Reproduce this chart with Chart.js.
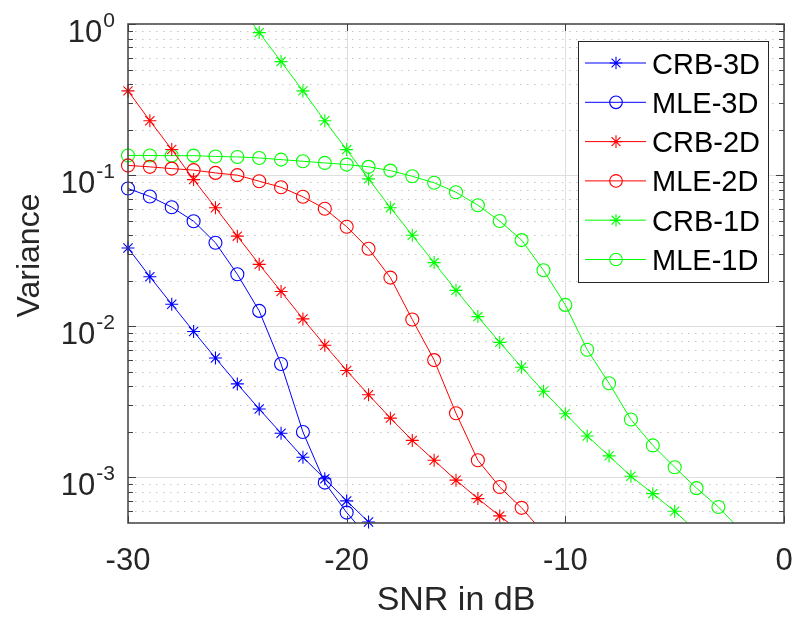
<!DOCTYPE html>
<html><head><meta charset="utf-8">
<script src="https://cdn.jsdelivr.net/npm/chart.js@4.4.1/dist/chart.umd.min.js"></script>
<style>html,body{margin:0;padding:0;background:#fff}#wrap{width:794px;height:618px}</style>
</head><body><div id="wrap"><canvas id="c" width="794" height="618"></canvas></div>
<script>
// ---- data (last/first value of a series lies just outside the axes) ----
const crb3dSNR = [-30,-29,-28,-27,-26,-25,-24,-23,-22,-21,-20,-19,-18];
const crb3dVar = [0.033,0.0213,0.014,0.00925,0.00617,0.00416,0.00284,0.00196,0.00136,0.00098,0.0007,0.000508,0.00036];
const mle3dSNR = [-30,-29,-28,-27,-26,-25,-24,-23,-22,-21,-20,-19];
const mle3dVar = [0.0816,0.0723,0.0614,0.0496,0.0357,0.0221,0.01265,0.00563,0.002,0.000925,0.000586,0.0004];
const crb2dSNR = [-30,-29,-28,-27,-26,-25,-24,-23,-22,-21,-20,-19,-18,-17,-16,-15,-14,-13,-12];
const crb2dVar = [0.361,0.229,0.148,0.0935,0.0609,0.0395,0.0257,0.017,0.0112,0.0075,0.0051,0.00353,0.00247,0.00176,0.0013,0.00096,0.000725,0.000557,0.00043];
const mle2dSNR = [-30,-29,-28,-27,-26,-25,-24,-23,-22,-21,-20,-19,-18,-17,-16,-15,-14,-13,-12,-11];
const mle2dVar = [0.116,0.1135,0.1105,0.108,0.1035,0.1,0.0912,0.0832,0.0719,0.06,0.0456,0.0326,0.021,0.0111,0.00598,0.00266,0.0013,0.000865,0.00063,0.00043];
const crb1dSNR = [-25,-24,-23,-22,-21,-20,-19,-18,-17,-16,-15,-14,-13,-12,-11,-10,-9,-8,-7,-6,-5,-4];
const crb1dVar = [1.4,0.877,0.564,0.361,0.229,0.1476,0.0945,0.0609,0.04,0.0264,0.0173,0.0116,0.00783,0.00536,0.00372,0.00264,0.00188,0.00139,0.00102,0.000782,0.000598,0.00044];
const mle1dSNR = [-30,-29,-28,-27,-26,-25,-24,-23,-22,-21,-20,-19,-18,-17,-16,-15,-14,-13,-12,-11,-10,-9,-8,-7,-6,-5,-4,-3,-2];
const mle1dVar = [0.135,0.135,0.1346,0.1346,0.133,0.132,0.13,0.1267,0.1236,0.1205,0.1175,0.1135,0.1072,0.0983,0.089,0.0771,0.0633,0.0497,0.0372,0.0235,0.01386,0.007,0.0042,0.00242,0.00163,0.00117,0.00085,0.000638,0.00045];

const seriesNames   = ['CRB-3D','MLE-3D','CRB-2D','MLE-2D','CRB-1D','MLE-1D'];
const seriesSNR     = [crb3dSNR, mle3dSNR, crb2dSNR, mle2dSNR, crb1dSNR, mle1dSNR];
const seriesVar     = [crb3dVar, mle3dVar, crb2dVar, mle2dVar, crb1dVar, mle1dVar];
const seriesColors  = ['#0000ff','#0000ff','#ff0000','#ff0000','#00ff00','#00ff00'];
const seriesMarkers = ['star','circle','star','circle','star','circle'];

const xMin = -30, xMax = 0;
const xTicks = [-30,-20,-10,0];
const xTickLabels = ['-30','-20','-10','0'];
const yMin = 5e-4, yMax = 1;
const yMajorTicks = [1e-3,1e-2,1e-1,1];
const yTickBase = '10';
const yTickExponents = ['-3','-2','-1','0'];
const xTitle = 'SNR in dB';
const yTitle = 'Variance';

const yMinorTicks = [];
for (const e of [-4,-3,-2,-1]) for (let m = 2; m <= 9; m++) {
  const v = m * Math.pow(10, e);
  if (v > yMin * 1.0001 && v < yMax) yMinorTicks.push(v);
}

const FONT = "'Liberation Sans', Arial, Helvetica, sans-serif";
const AXIS_COLOR = '#262626';

const datasets = [];
seriesNames.forEach((name, i) => {
  const pts = seriesSNR[i].map((s, k) => ({x: s, y: seriesVar[i][k]}));
  datasets.push({
    label: name, data: pts, showLine: true, borderColor: seriesColors[i],
    borderWidth: 1, pointRadius: 0, pointHoverRadius: 0, clip: 0, tension: 0
  });
  datasets.push({
    label: name + ' markers', data: pts.filter(p => p.y >= yMin * 0.999 && p.y <= yMax),
    showLine: false, pointStyle: seriesMarkers[i], pointRadius: 6.5, pointHoverRadius: 6.5,
    pointBorderColor: seriesColors[i], pointBackgroundColor: 'rgba(0,0,0,0)',
    pointBorderWidth: 1.1, clip: false
  });
});

function seg(ctx, x1, y1, x2, y2) { ctx.beginPath(); ctx.moveTo(x1, y1); ctx.lineTo(x2, y2); ctx.stroke(); }

const matlabAxes = {
  id: 'matlabAxes',
  beforeDatasetsDraw(chart) {
    const {ctx, chartArea: a, scales: {x, y}} = chart;
    ctx.save();
    ctx.lineWidth = 1;
    ctx.strokeStyle = '#c4c4c4';
    ctx.setLineDash([1.5, 5.5]);
    for (const v of yMinorTicks) {
      const py = Math.round(y.getPixelForValue(v)) + 0.5;
      seg(ctx, a.left, py, a.right, py);
    }
    ctx.setLineDash([]);
    ctx.strokeStyle = '#dedede';
    for (const v of yMajorTicks) {
      const py = Math.round(y.getPixelForValue(v)) + 0.5;
      if (py > a.top + 2 && py < a.bottom - 2) seg(ctx, a.left, py, a.right, py);
    }
    for (const v of xTicks) {
      const px = Math.round(x.getPixelForValue(v)) + 0.5;
      if (px > a.left + 2 && px < a.right - 2) seg(ctx, px, a.top, px, a.bottom);
    }
    ctx.restore();
  },
  afterDatasetsDraw(chart) {
    const {ctx, chartArea: a, scales: {x, y}} = chart;
    ctx.save();
    // box
    ctx.strokeStyle = '#404040';
    ctx.lineWidth = 1.5;
    ctx.strokeRect(a.left, a.top, a.right - a.left, a.bottom - a.top);
    // ticks
    ctx.lineWidth = 1;
    ctx.strokeStyle = '#404040';
    for (const v of yMinorTicks) {
      const py = Math.round(y.getPixelForValue(v)) + 0.5;
      seg(ctx, a.left, py, a.left + 5, py); seg(ctx, a.right, py, a.right - 5, py);
    }
    for (const v of yMajorTicks) {
      const py = Math.round(y.getPixelForValue(v)) + 0.5;
      seg(ctx, a.left, py, a.left + 8, py); seg(ctx, a.right, py, a.right - 8, py);
    }
    for (const v of xTicks) {
      const px = Math.round(x.getPixelForValue(v)) + 0.5;
      seg(ctx, px, a.bottom, px, a.bottom - 7); seg(ctx, px, a.top, px, a.top + 7);
    }
    // y tick labels with superscript exponents
    ctx.fillStyle = AXIS_COLOR;
    ctx.textBaseline = 'alphabetic';
    yMajorTicks.forEach((v, i) => {
      const py = y.getPixelForValue(v);
      const right = a.left - 13;
      ctx.font = '21px ' + FONT;
      ctx.textAlign = 'right';
      ctx.fillText(yTickExponents[i], right, py + 3);
      const ew = ctx.measureText(yTickExponents[i]).width;
      ctx.font = '31px ' + FONT;
      ctx.fillText(yTickBase, right - ew - 1, py + 18);
    });
    // y axis title
    ctx.save();
    ctx.translate(30, (a.top + a.bottom) / 2 - 18);
    ctx.rotate(-Math.PI / 2);
    ctx.font = '32px ' + FONT;
    ctx.textAlign = 'center';
    ctx.textBaseline = 'middle';
    ctx.fillStyle = AXIS_COLOR;
    ctx.fillText(yTitle, 0, 0);
    ctx.restore();
    // legend
    const bx = 578, by = 41, bw = 190, bh = 241;
    ctx.fillStyle = '#ffffff';
    ctx.fillRect(bx, by, bw, bh);
    ctx.strokeStyle = AXIS_COLOR;
    ctx.lineWidth = 1;
    ctx.strokeRect(bx + 0.5, by + 0.5, bw, bh);
    seriesNames.forEach((name, i) => {
      const cy = by + 22 + i * 39.3;
      ctx.strokeStyle = seriesColors[i];
      ctx.lineWidth = 1;
      seg(ctx, bx + 7, cy, bx + 68, cy);
      ctx.fillStyle = 'rgba(0,0,0,0)';
      ctx.lineWidth = 1.1;
      Chart.helpers.drawPoint(ctx, {pointStyle: seriesMarkers[i], radius: 6.3, rotation: 0, borderWidth: 1.1}, bx + 38, cy);
      ctx.fillStyle = '#000000';
      ctx.font = '29px ' + FONT;
      ctx.textAlign = 'left';
      ctx.textBaseline = 'middle';
      ctx.fillText(name, bx + 74, cy + 2.5);
    });
    ctx.restore();
  }
};

new Chart(document.getElementById('c'), {
  type: 'scatter',
  data: {datasets},
  options: {
    responsive: false, animation: false, devicePixelRatio: 1,
    layout: {padding: {top: 24, right: 10, left: 0, bottom: 0}},
    plugins: {legend: {display: false}, tooltip: {enabled: false}},
    scales: {
      x: {
        type: 'linear', min: xMin, max: xMax,
        grid: {display: false, drawTicks: false}, border: {display: false},
        afterBuildTicks: (s) => { s.ticks = xTicks.map(v => ({value: v})); },
        afterFit: (s) => { s.height = 95; s.paddingLeft = 0; s.paddingRight = 0; },
        ticks: {
          color: AXIS_COLOR, padding: 20, maxRotation: 0, autoSkip: false,
          font: {family: FONT, size: 31},
          callback: (v) => xTickLabels[xTicks.indexOf(v)]
        },
        title: {display: true, text: xTitle, color: AXIS_COLOR,
                font: {family: FONT, size: 34, lineHeight: 1}, padding: {top: 0, bottom: 0}}
      },
      y: {
        type: 'logarithmic', min: yMin, max: yMax,
        grid: {display: false, drawTicks: false}, border: {display: false},
        ticks: {display: false},
        afterFit: (s) => { s.width = 128; s.paddingTop = 0; s.paddingBottom = 0; },
        title: {display: false}
      }
    }
  },
  plugins: [matlabAxes]
});
</script>
</body></html>
